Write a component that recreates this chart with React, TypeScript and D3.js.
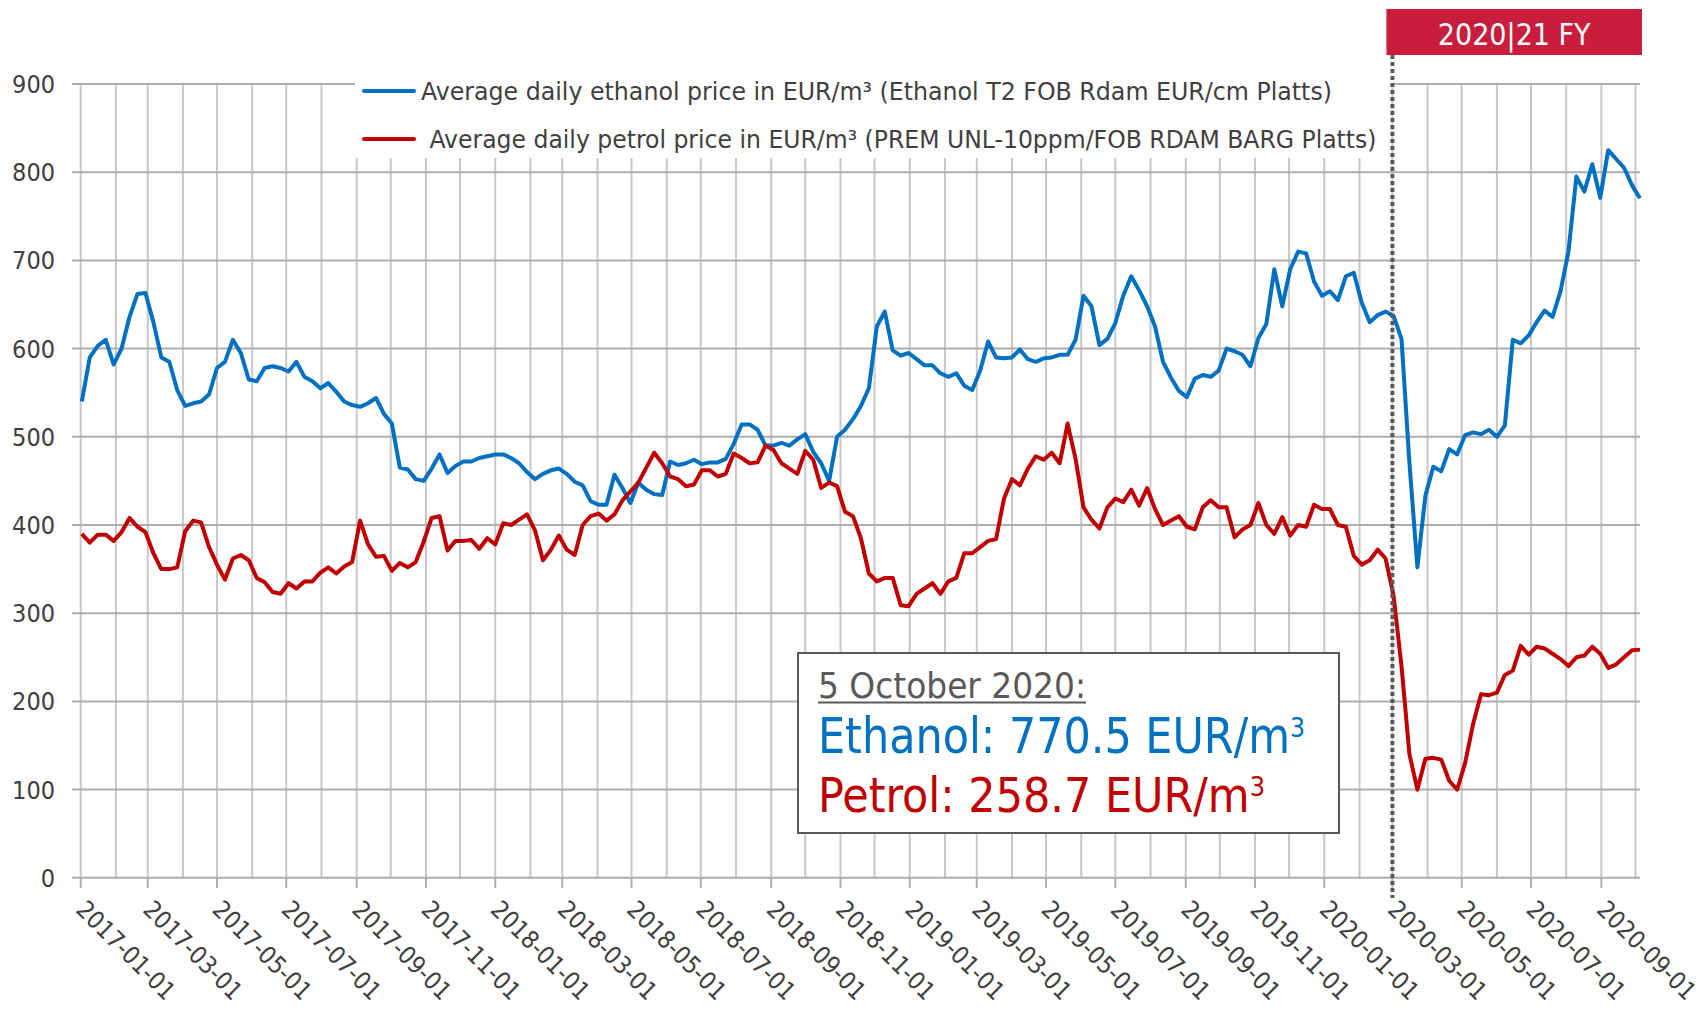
import React from 'react';
import * as d3 from 'd3';

// weekly readings (Mondays) from 2017-01-02 to 2020-10-05, EUR/m3
const SERIES_START = new Date(2017, 0, 2);

const ETHANOL = [
  540, 590, 603, 610, 582, 600, 636, 662, 663, 630, 590, 585, 553, 535, 538, 540, 548, 578, 585, 610,
  595, 565, 563, 578, 580, 578, 574, 585, 568, 563, 555, 561, 551, 540, 536, 534, 538, 544, 526, 515,
  465, 463, 452, 450, 464, 480, 459, 467, 472, 472, 476, 478, 480, 480, 476, 470, 460, 452, 458, 462,
  464, 458, 449, 445, 427, 423, 423, 457, 442, 425, 448, 440, 435, 434, 472, 468, 470, 474, 469, 471,
  471, 475, 492, 514, 514, 508, 490, 490, 493, 490, 497, 503, 483, 470, 450, 500, 508, 520, 535, 555,
  625, 642, 598, 592, 595, 588, 581, 581, 572, 568, 572, 558, 553, 575, 608, 590, 589, 590, 599, 588,
  585, 589, 590, 593, 593, 610, 660, 648, 604, 611, 629, 660, 682, 666, 648, 625, 585, 567, 552, 545,
  566, 570, 568, 575, 600, 597, 593, 580, 612, 628, 690, 648, 690, 710, 708, 676, 660, 665, 655, 682,
  686, 652, 630, 638, 642, 637, 611, 470, 352, 433, 466, 461, 486, 480, 502, 505, 503, 508, 500, 513,
  610, 606, 615, 630, 643, 636, 665, 710, 795, 778, 809, 771, 825, 815, 805, 785, 770.5,
];

const PETROL = [
  390, 380, 389, 389, 382, 392, 408, 398, 392, 368, 350, 350, 352, 393, 405, 403, 375, 355, 338, 362,
  366, 360, 340, 335, 324, 322, 334, 328, 336, 336, 346, 352, 345, 353, 358, 405, 378, 364, 365, 348,
  357, 352, 358, 381, 408, 410, 371, 382, 382, 383, 373, 385, 378, 402, 400, 406, 412, 394, 360, 372,
  388, 372, 366, 400, 410, 413, 405, 412, 428, 438, 448, 465, 482, 470, 455, 452, 444, 446, 462, 462,
  455, 458, 481, 476, 470, 471, 490, 485, 470, 464, 458, 484, 474, 442, 448, 444, 415, 410, 385, 345,
  336, 340, 340, 309, 308, 322, 328, 334, 322, 336, 340, 368, 368, 375, 382, 384, 430, 452, 445, 464,
  478, 474, 482, 470, 515, 475, 420, 406, 396, 420, 430, 426, 440, 422, 442, 418, 400, 405, 410, 398,
  395, 420, 428, 420, 420, 386, 395, 400, 425, 400, 390, 409, 388, 400, 398, 423, 418, 418, 400, 398,
  365, 355, 360, 372, 362, 320, 240, 140, 100, 135, 136, 134, 110, 100, 130, 174, 208, 207, 210, 230,
  235, 263, 253, 262, 260, 254, 248, 240, 250, 252, 262, 254, 238, 242, 250, 258, 258.7,
];

const Y_TICKS = [0, 100, 200, 300, 400, 500, 600, 700, 800, 900];

const LEGEND = [
  { label: 'Average daily ethanol price in EUR/m³ (Ethanol T2 FOB Rdam EUR/cm Platts)', color: '#0070C0' },
  { label: 'Average daily petrol price in EUR/m³ (PREM UNL-10ppm/FOB RDAM BARG Platts)', color: '#C00000' },
];

const FY_START = new Date(2020, 2, 1);
const FY_LABEL = '2020|21 FY';
const NOTE_DATE = '5 October 2020:';
const NOTE_ETHANOL = 'Ethanol: 770.5 EUR/m';
const NOTE_PETROL = 'Petrol: 258.7 EUR/m';

const FONT = "'DejaVu Sans Condensed', 'DejaVu Sans', sans-serif";
const TEXT = '#404040';

export default function App() {
  const width = 1701;
  const height = 1013;

  const x = d3.scaleTime()
    .domain([new Date(2017, 0, 1), new Date(2020, 9, 5)])
    .range([80.7, 1640]);
  const y = d3.scaleLinear().domain([0, 900]).range([877.8, 84]);

  const dates = ETHANOL.map((_, i) => d3.timeDay.offset(SERIES_START, 7 * i));
  const line = d3.line<number>()
    .x((_, i) => x(dates[i]))
    .y((d) => y(d));

  const months = d3.timeMonth.range(new Date(2017, 0, 1), new Date(2020, 9, 2));
  const tickMonths = months.filter((m) => m.getMonth() % 2 === 0);
  const fmt = d3.timeFormat('%Y-%m-%d');
  const xEnd = x.range()[1];
  const fyX = x(FY_START);

  return (
    <svg
      width={width}
      height={height}
      style={{ position: 'absolute', left: 0, top: 0, display: 'block', background: '#fff' }}
      fontFamily={FONT}
      fontStretch="condensed"
    >
      {/* grid */}
      {months.map((m) => (
        <line key={'v' + +m} x1={x(m)} x2={x(m)} y1={y(900)} y2={y(0)} stroke="#C8C8C8" strokeWidth={2} />
      ))}
      {Y_TICKS.map((t) => (
        <line key={'h' + t} x1={72} x2={xEnd} y1={y(t)} y2={y(t)} stroke="#ADADAD" strokeWidth={2} />
      ))}
      {tickMonths.map((m) => (
        <line key={'t' + +m} x1={x(m)} x2={x(m)} y1={y(0)} y2={y(0) + 10} stroke="#ADADAD" strokeWidth={2} />
      ))}

      {/* y labels */}
      {Y_TICKS.map((t) => (
        <text key={'yl' + t} x={55} y={y(t)} dy="0.36em" textAnchor="end" fontSize={25} fill={TEXT}>
          {t}
        </text>
      ))}

      {/* x labels */}
      {tickMonths.map((m) => (
        <text
          key={'xl' + +m}
          transform={`translate(${x(m) - 6},${911}) rotate(45)`}
          fontSize={24.5}
          fill={TEXT}
        >
          {fmt(m)}
        </text>
      ))}

      {/* series */}
      <path d={line(ETHANOL) || ''} fill="none" stroke="#0070C0" strokeWidth={4} strokeLinejoin="round" />
      <path d={line(PETROL) || ''} fill="none" stroke="#C00000" strokeWidth={4} strokeLinejoin="round" />

      {/* legend */}
      <rect x={355} y={60} width={1036} height={98} fill="#fff" />
      {LEGEND.map((l, i) => (
        <g key={l.label}>
          <line x1={364} x2={414} y1={91 + i * 48} y2={91 + i * 48} stroke={l.color} strokeWidth={4} strokeLinecap="round" />
          <text
            x={i === 0 ? 421 : 429.5}
            y={99.5 + i * 48}
            fontSize={25.5}
            fill={TEXT}
            textLength={i === 0 ? 911 : 947}
            lengthAdjust="spacingAndGlyphs"
          >
            {l.label}
          </text>
        </g>
      ))}

      {/* annotation box */}
      <rect x={798} y={653} width={541} height={180} fill="#fff" stroke="#595959" strokeWidth={2} />
      <text x={818} y={698} fontSize={35} fill="#595959" textLength={268} lengthAdjust="spacingAndGlyphs">
        {NOTE_DATE}
      </text>
      <line x1={818} x2={1086} y1={702.5} y2={702.5} stroke="#595959" strokeWidth={2} />
      <text x={818} y={753} fontSize={49} fill="#0070C0" textLength={487} lengthAdjust="spacingAndGlyphs">
        {NOTE_ETHANOL}
        <tspan fontSize={27} dy={-16}>3</tspan>
      </text>
      <text x={818} y={811.5} fontSize={48} fill="#C00000" textLength={447} lengthAdjust="spacingAndGlyphs">
        {NOTE_PETROL}
        <tspan fontSize={27} dy={-16}>3</tspan>
      </text>

      {/* financial year marker */}
      <line x1={fyX} x2={fyX} y1={55} y2={898} stroke="#595959" strokeWidth={4} strokeDasharray="4 3" />
      <rect x={fyX - 6} y={9} width={xEnd + 2 - (fyX - 6)} height={46} fill="#C81E3C" />
      <text x={(fyX - 6 + xEnd + 2) / 2} y={45} textAnchor="middle" fontSize={30} fill="#fff">
        {FY_LABEL}
      </text>
    </svg>
  );
}
